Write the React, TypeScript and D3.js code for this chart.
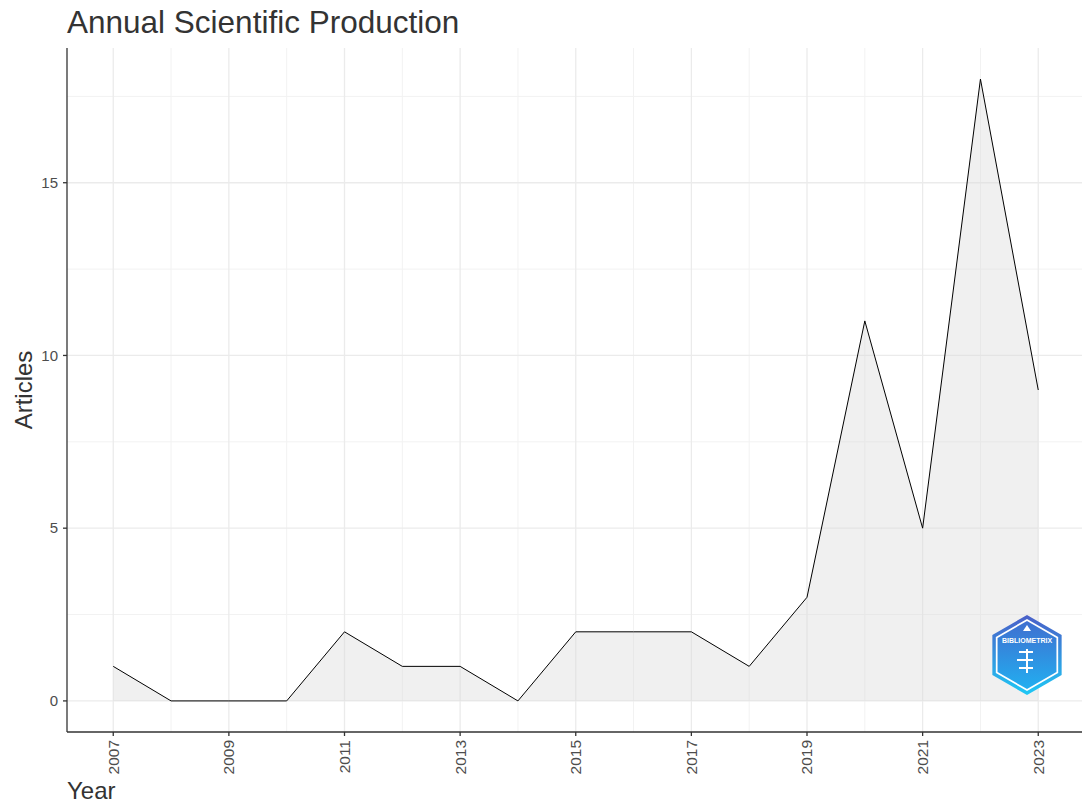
import React from "react";
import * as d3 from "d3";

const years = [2007, 2008, 2009, 2010, 2011, 2012, 2013, 2014, 2015, 2016, 2017, 2018, 2019, 2020, 2021, 2022, 2023];
const articles = [1, 0, 0, 0, 2, 1, 1, 0, 2, 2, 2, 1, 3, 11, 5, 18, 9];
const xTicks = [2007, 2009, 2011, 2013, 2015, 2017, 2019, 2021, 2023];
const xMinor = [2008, 2010, 2012, 2014, 2016, 2018, 2020, 2022];
const yTicks = [0, 5, 10, 15];
const yMinor = [2.5, 7.5, 12.5, 17.5];

const W = 1082, H = 805;
const left = 67, right = 1082, top = 48, bottom = 732;

export default function App() {
  const x = d3.scaleLinear().domain([2006.2, 2023.8]).range([left, left + (1039 - 114) / 16 * 17.6]);
  const y = d3.scaleLinear().domain([-0.9, 18.9]).range([bottom, top]);
  const data = years.map((yr, i) => ({ yr, v: articles[i] }));
  const area = d3.area<any>().x(d => x(d.yr)).y0(y(0)).y1(d => y(d.v));
  const line = d3.line<any>().x(d => x(d.yr)).y(d => y(d.v));
  const font = "'Liberation Sans', Arial, sans-serif";
  const lx = 1027, ly = 655, r = 40;
  const hexPts = (rr: number) => d3.range(6).map(i => {
    const a = Math.PI / 180 * (60 * i - 90);
    return [lx + rr * Math.cos(a), ly + rr * Math.sin(a)].join(",");
  }).join(" ");
  return (
    <svg width={W} height={H} style={{ position: "absolute", left: 0, top: 0, fontFamily: font }}>
      <defs>
        <clipPath id="panel"><rect x={left} y={top} width={right - left} height={bottom - top} /></clipPath>
        <linearGradient id="lg" x1="0" y1="0" x2="0" y2="1">
          <stop offset="0" stopColor="#4a5fc8" />
          <stop offset="1" stopColor="#1ec8f5" />
        </linearGradient>
        <linearGradient id="lg2" x1="0" y1="0" x2="0" y2="1">
          <stop offset="0" stopColor="#3f6fd0" />
          <stop offset="1" stopColor="#22aef0" />
        </linearGradient>
      </defs>
      <rect width={W} height={H} fill="#fff" />
      <g clipPath="url(#panel)">
        {yMinor.map(t => <line key={"ym" + t} x1={left} x2={right} y1={y(t)} y2={y(t)} stroke="#f2f2f2" strokeWidth={1} />)}
        {xMinor.map(t => <line key={"xm" + t} x1={x(t)} x2={x(t)} y1={top} y2={bottom} stroke="#f2f2f2" strokeWidth={1} />)}
        {yTicks.map(t => <line key={"y" + t} x1={left} x2={right} y1={y(t)} y2={y(t)} stroke="#ebebeb" strokeWidth={1.3} />)}
        {xTicks.map(t => <line key={"x" + t} x1={x(t)} x2={x(t)} y1={top} y2={bottom} stroke="#ebebeb" strokeWidth={1.3} />)}
        <path d={area(data) || ""} fill="#d9d9d9" fillOpacity={0.4} />
        <path d={line(data) || ""} fill="none" stroke="#000" strokeWidth={1} />
        <g>
          <polygon points={hexPts(r)} fill="url(#lg)" />
          <polygon points={hexPts(r - 4)} fill="#fff" />
          <polygon points={hexPts(r - 6)} fill="url(#lg2)" />
          <text x={lx} y={ly - 12} textAnchor="middle" fontSize={7} fontWeight="bold" fill="#fff">BIBLIOMETRIX</text>
          <path d={`M${lx - 4},${ly - 24} L${lx},${ly - 30} L${lx + 4},${ly - 24} Z`} fill="#fff" />
          <path d={`M${lx - 8},${ly - 3} h14 M${lx - 10},${ly + 5} h16 M${lx - 8},${ly + 13} h14 M${lx},${ly - 6} v24`} stroke="#fff" strokeWidth={2} />
        </g>
      </g>
      <line x1={left} x2={left} y1={top} y2={bottom} stroke="#333" strokeWidth={1.3} />
      <line x1={left} x2={right} y1={bottom} y2={bottom} stroke="#333" strokeWidth={1.3} />
      {yTicks.map(t => (
        <g key={"yt" + t}>
          <line x1={left - 4} x2={left} y1={y(t)} y2={y(t)} stroke="#333" strokeWidth={1.3} />
          <text x={left - 9} y={y(t)} dy="0.35em" textAnchor="end" fontSize={15} fill="#4d4d4d">{t}</text>
        </g>
      ))}
      {xTicks.map(t => (
        <g key={"xt" + t}>
          <line x1={x(t)} x2={x(t)} y1={bottom} y2={bottom + 4} stroke="#333" strokeWidth={1.3} />
          <text transform={`translate(${x(t)},${bottom + 8}) rotate(-90)`} dy="0.35em" textAnchor="end" fontSize={15.5} fill="#4d4d4d">{t}</text>
        </g>
      ))}
      <text x={67} y={33} fontSize={31.5} fill="#333">Annual Scientific Production</text>
      <text transform={`translate(32,${(top + bottom) / 2}) rotate(-90)`} textAnchor="middle" fontSize={24} fill="#333">Articles</text>
      <text x={67} y={799} fontSize={24} fill="#333">Year</text>
    </svg>
  );
}
